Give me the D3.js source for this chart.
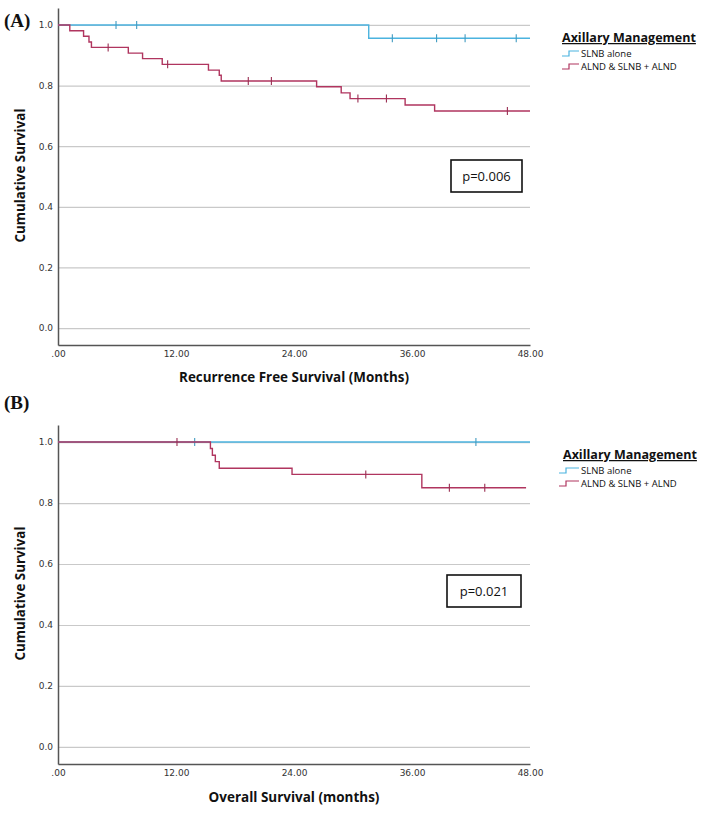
<!DOCTYPE html>
<html>
<head>
<meta charset="utf-8">
<script src="https://cdn.jsdelivr.net/npm/d3@7"></script>
<style>
  html, body { margin: 0; padding: 0; background: #fff; }
  svg { display: block; }
</style>
</head>
<body>
<svg id="chart" width="708" height="813"></svg>
<script>
// ---------------- DATA ----------------
const xTickValues = [0, 12, 24, 36, 48];
const xTickLabels = [".00", "12.00", "24.00", "36.00", "48.00"];
const yTickValues = [0.0, 0.2, 0.4, 0.6, 0.8, 1.0];

const seriesNames = ["SLNB alone", "ALND & SLNB + ALND"];
const legendTitle = "Axillary Management";

// Panel A: Recurrence free survival
const rfsSlnbTimes = [0, 31.6];
const rfsSlnbSurv = [1.0, 0.956];
const rfsSlnbCensor = [5.9, 8.0, 34.0, 38.5, 41.4, 46.6];
const rfsSlnbEnd = 48;

const rfsAlndTimes = [0, 1.2, 2.6, 3.15, 3.4, 7.15, 8.6, 10.6, 15.3, 16.4, 16.6, 26.3, 28.8, 29.7, 35.3, 38.3];
const rfsAlndSurv  = [1.0, 0.981, 0.963, 0.944, 0.926, 0.907, 0.889, 0.870, 0.851, 0.834, 0.815, 0.796, 0.776, 0.757, 0.736, 0.716];
const rfsAlndCensor = [5.1, 11.15, 19.35, 21.7, 30.5, 33.4, 45.7];
const rfsAlndEnd = 48;

// Panel B: Overall survival
const osSlnbTimes = [0];
const osSlnbSurv = [1.0];
const osSlnbCensor = [13.9, 42.5];
const osSlnbEnd = 48;

const osAlndTimes = [0, 15.5, 15.7, 16.0, 16.4, 23.8, 37.0];
const osAlndSurv  = [1.0, 0.979, 0.957, 0.936, 0.914, 0.894, 0.850];
const osAlndCensor = [12.1, 31.3, 39.8, 43.4];
const osAlndEnd = 47.6;

const pValues = ["p=0.006", "p=0.021"];
const panelLabels = ["(A)", "(B)"];
const xTitles = ["Recurrence Free Survival (Months)", "Overall Survival (months)"];
const yTitle = "Cumulative Survival";

// ---------------- STYLE ----------------
const colBlue = "#4bb3df";
const colRed = "#b0355f";
const colGrid = "#c9c9c9";
const colAxis = "#555";
const tickFont = "DejaVu Sans, Verdana, sans-serif";
const titleFont = "'Open Sans', 'DejaVu Sans', sans-serif";

const svg = d3.select("#chart");

function fitText(sel, target) {
  const w = sel.node().getComputedTextLength();
  const fs = parseFloat(sel.attr("font-size"));
  if (w > 0) sel.attr("font-size", (fs * target / w).toFixed(2));
}

const panels = [
  {
    top: 8, bottom: 345, left: 58, right: 530,
    series: [
      {times: rfsSlnbTimes, surv: rfsSlnbSurv, censor: rfsSlnbCensor, end: rfsSlnbEnd, color: colBlue},
      {times: rfsAlndTimes, surv: rfsAlndSurv, censor: rfsAlndCensor, end: rfsAlndEnd, color: colRed}
    ],
    pBox: {x: 451, y: 160, w: 71, h: 32},
    legend: {x: 562, y: 42, dy1: 15, dy2: 28, sx: 562},
    label: {x: 4, y: 27},
    xTitleY: 382, xTickY: 357,
    yTitleW: 134, xTitleW: 230
  },
  {
    top: 425, bottom: 764, left: 58, right: 530,
    series: [
      {times: osSlnbTimes, surv: osSlnbSurv, censor: osSlnbCensor, end: osSlnbEnd, color: colBlue},
      {times: osAlndTimes, surv: osAlndSurv, censor: osAlndCensor, end: osAlndEnd, color: colRed}
    ],
    pBox: {x: 447, y: 575, w: 74, h: 32},
    legend: {x: 563, y: 459, dy1: 15, dy2: 28, sx: 559},
    label: {x: 4, y: 409},
    xTitleY: 802, xTickY: 776,
    yTitleW: 134, xTitleW: 171
  }
];

panels.forEach((p, pi) => {
  const g = svg.append("g");
  const x = d3.scaleLinear().domain([0, 48]).range([p.left, p.right]);
  const y = d3.scaleLinear().domain([-0.056, 1.056]).range([p.bottom, p.top]);

  // gridlines
  g.append("g")
    .attr("transform", `translate(${p.left},0)`)
    .call(d3.axisLeft(y).tickValues(yTickValues).tickSize(-(p.right - p.left)).tickFormat(""))
    .call(s => s.select(".domain").remove())
    .call(s => s.selectAll("line").attr("stroke", colGrid).attr("stroke-width", 1.2));

  // y axis
  const ya = g.append("g")
    .attr("transform", `translate(${p.left},0)`)
    .call(d3.axisLeft(y).tickValues(yTickValues).tickSize(0).tickPadding(5).tickFormat(d3.format(".1f")));
  ya.select(".domain").attr("stroke", colAxis).attr("stroke-width", 1.5);
  ya.selectAll("text").attr("font-family", tickFont).attr("font-size", 9).attr("fill", "#333");

  // x axis
  const xa = g.append("g")
    .attr("transform", `translate(0,${p.bottom})`)
    .call(d3.axisBottom(x).tickValues(xTickValues).tickSize(0).tickPadding(0)
      .tickFormat((d, i) => xTickLabels[i]));
  xa.select(".domain").attr("stroke", colAxis).attr("stroke-width", 1.5);
  xa.selectAll("text").attr("font-family", tickFont).attr("font-size", 9).attr("fill", "#333")
    .attr("dy", null).attr("y", p.xTickY - p.bottom);

  // curves
  p.series.forEach(s => {
    const pts = s.times.map((t, i) => [t, s.surv[i]]);
    pts.push([s.end, s.surv[s.surv.length - 1]]);
    const line = d3.line().x(d => x(d[0])).y(d => y(d[1])).curve(d3.curveStepAfter);
    g.append("path").attr("d", line(pts)).attr("fill", "none")
      .attr("stroke", s.color).attr("stroke-width", 1.4);
    // censor marks
    s.censor.forEach(c => {
      let v = s.surv[0];
      s.times.forEach((t, i) => { if (t <= c) v = s.surv[i]; });
      g.append("line")
        .attr("x1", x(c)).attr("x2", x(c))
        .attr("y1", y(v) - 4).attr("y2", y(v) + 4)
        .attr("stroke", d3.color(s.color).darker(0.4)).attr("stroke-width", 1.1);
    });
  });

  // p-value box
  g.append("rect").attr("x", p.pBox.x).attr("y", p.pBox.y)
    .attr("width", p.pBox.w).attr("height", p.pBox.h)
    .attr("fill", "#fff").attr("stroke", "#111").attr("stroke-width", 1.6);
  g.append("text").attr("x", p.pBox.x + p.pBox.w / 2).attr("y", p.pBox.y + p.pBox.h / 2 + 4.5)
    .attr("text-anchor", "middle").attr("font-family", "'Open Sans', 'DejaVu Sans', sans-serif")
    .attr("font-size", 13).attr("fill", "#111").text(pValues[pi]);

  // panel label
  g.append("text").attr("x", p.label.x).attr("y", p.label.y)
    .attr("font-family", "'Liberation Serif', 'Times New Roman', serif")
    .attr("font-weight", "bold").attr("font-size", 19).attr("fill", "#111")
    .text(panelLabels[pi]);

  // axis titles
  const xt = g.append("text").attr("x", (p.left + p.right) / 2).attr("y", p.xTitleY)
    .attr("text-anchor", "middle").attr("font-family", titleFont).attr("font-weight", "bold")
    .attr("font-size", 13).attr("fill", "#111").text(xTitles[pi]);
  fitText(xt, p.xTitleW);
  const cy = (p.top + p.bottom) / 2 - 1;
  const yt = g.append("text").attr("transform", `translate(25,${cy}) rotate(-90)`)
    .attr("text-anchor", "middle").attr("font-family", titleFont).attr("font-weight", "bold")
    .attr("font-size", 13).attr("fill", "#111").text(yTitle);
  fitText(yt, p.yTitleW);

  // legend
  const L = p.legend;
  const lt = g.append("text").attr("x", L.x).attr("y", L.y)
    .attr("font-family", titleFont).attr("font-weight", "bold").attr("font-size", 13)
    .attr("fill", "#111").attr("text-decoration", "underline").text(legendTitle);
  fitText(lt, 134);
  [L.dy1, L.dy2].forEach((dy, i) => {
    const yy = L.y + dy;
    const col = i === 0 ? colBlue : colRed;
    g.append("path")
      .attr("d", `M${L.sx},${yy - 1} H${L.sx + 7} V${yy - 6} H${581 - 2}`)
      .attr("fill", "none").attr("stroke", col).attr("stroke-width", 1.2);
    g.append("text").attr("x", 581).attr("y", yy)
      .attr("font-family", titleFont).attr("font-size", 9.5).attr("fill", "#111")
      .text(seriesNames[i]);
  });
});
</script>
</body>
</html>
